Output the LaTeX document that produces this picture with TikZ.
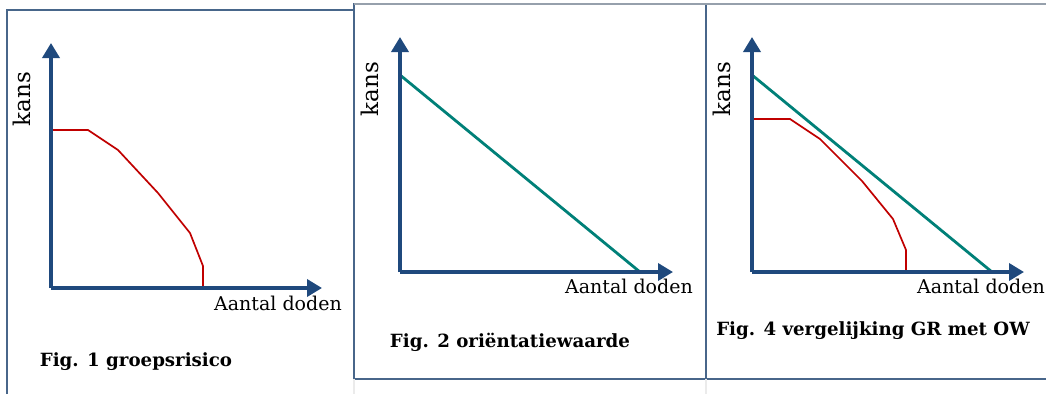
\documentclass[tikz,border=0pt]{standalone}
\usepackage{fontspec}
\setmainfont{DejaVu Serif}
\usepackage{xcolor}
\usetikzlibrary{arrows.meta,positioning}

\definecolor{asblauw}{RGB}{31,73,125}
\definecolor{kader}{RGB}{72,102,138}
\definecolor{kadergrijs}{RGB}{150,160,172}
\definecolor{owgroen}{RGB}{0,128,120}
\definecolor{grrood}{RGB}{192,0,0}

\tikzset{
  as/.style={draw=asblauw, line width=3.6pt, -{Triangle[length=15pt,width=17pt]}},
  grlijn/.style={draw=grrood, line width=1.7pt},
  owlijn/.style={draw=owgroen, line width=2.8pt},
  rand/.style={draw=kader, line width=1.1pt},
  aslabel/.style={font=\fontsize{19}{21}\selectfont, inner sep=0pt},
  kanslabel/.style={font=\fontsize{23}{25}\selectfont, inner sep=0pt, rotate=90},
  bijschrift/.style={font=\bfseries\fontsize{18.2}{20}\selectfont, inner sep=0pt}
}

\begin{document}
\begin{tikzpicture}[x=1pt, y=-1pt]
				\useasboundingbox (0,0) rectangle (1046,394);
				% kaders
				\draw[rand] (7,394) -- (7,10) -- (354,10);
				\draw[rand] (354,4) rectangle (706,379);
				\draw[rand] (706,379) -- (1046,379);
				\draw[draw=kadergrijs, line width=1.1pt] (354,4) -- (1046,4);
				\draw[draw=black!8, line width=1.1pt] (354,379) -- (354,394) (706,379) -- (706,394);
				
				% Fig. 1
				\coordinate (o1) at (51,288);
				\coordinate (y1) at (51,43);
				\coordinate (x1) at (322,288);
				\draw[grlijn] (51,130) -- (88,130) -- (118,150) -- (158,193) -- (190,233) -- (203,266) -- (203,288);
				\draw[as] (o1) -- (y1);
				\draw[as] (o1) -- (x1);
				\node[kanslabel] (kans1) at (22,99) {kans};
				\node[aslabel] (doden1) at (278,303) {Aantal doden};
				\node[bijschrift] (fig1) at (136,362) {Fig. 1 groepsrisico};
				
				% Fig. 2
				\coordinate (o2) at (400,272);
				\coordinate (y2) at (400,37);
				\coordinate (x2) at (673,272);
				\draw[owlijn] (400,75) -- (640,272);
				\draw[as] (o2) -- (y2);
				\draw[as] (o2) -- (x2);
				\node[kanslabel] (kans2) at (370,89) {kans};
				\node[aslabel] (doden2) at (629,286) {Aantal doden};
				\node[bijschrift] (fig2) at (510,342) {Fig. 2 oriëntatiewaarde};
				
				% Fig. 4
				\coordinate (o4) at (752,272);
				\coordinate (y4) at (752,37);
				\coordinate (x4) at (1024,272);
				\draw[grlijn] (752,119) -- (790,119) -- (820,139) -- (862,181) -- (893,219) -- (906,250) -- (906,272);
				\draw[owlijn] (752,75) -- (992,272);
				\draw[as] (o4) -- (y4);
				\draw[as] (o4) -- (x4);
				\node[kanslabel] (kans4) at (722,89) {kans};
				\node[aslabel] (doden4) at (981,286) {Aantal doden};
				\node[bijschrift] (fig4) at (873,331) {Fig. 4 vergelijking GR met OW};
			\end{tikzpicture}
\end{document}
